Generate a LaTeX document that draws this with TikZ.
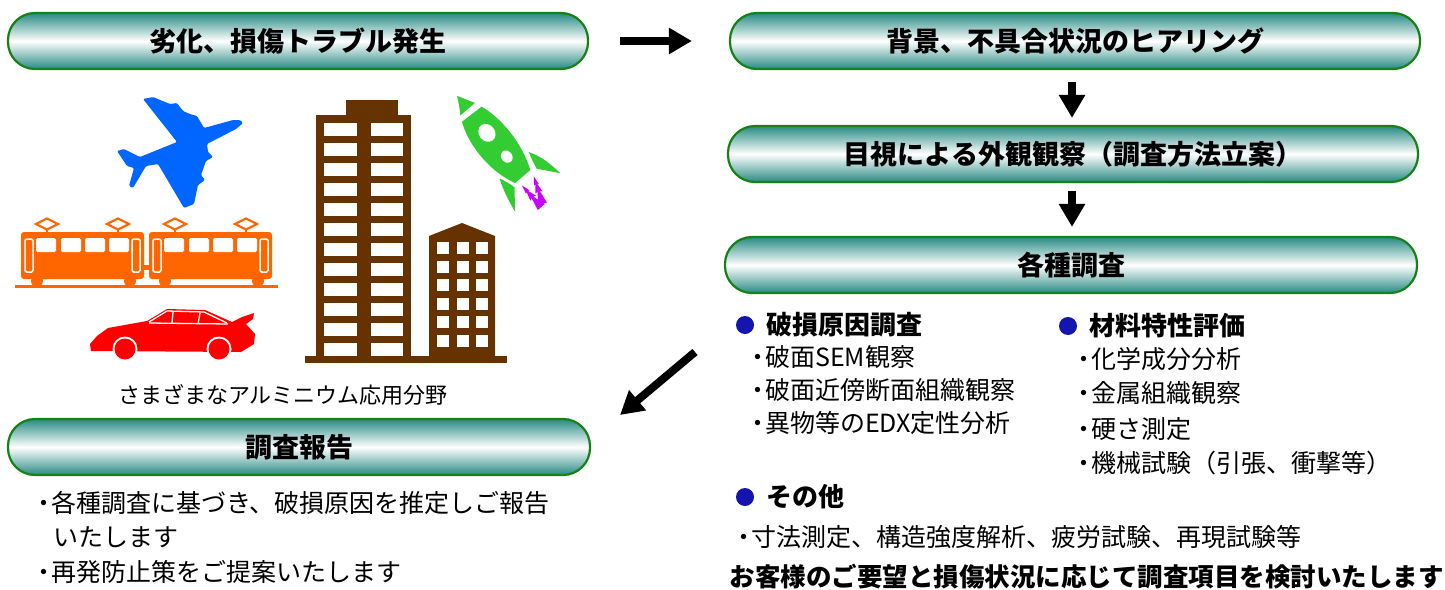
\documentclass[tikz,border=0pt]{standalone}
\usepackage{fontspec}
\setmainfont{Noto Sans CJK JP}
\usetikzlibrary{arrows.meta}

\definecolor{pillteal}{RGB}{40,138,132}
\definecolor{pillgreen}{RGB}{20,130,20}
\definecolor{dotblue}{RGB}{20,20,175}
\definecolor{planeblue}{RGB}{0,102,255}
\definecolor{trainorange}{RGB}{255,102,0}
\definecolor{carred}{RGB}{255,0,0}
\definecolor{bldbrown}{RGB}{102,51,0}
\definecolor{rocketgreen}{RGB}{51,204,51}
\definecolor{flamemagenta}{RGB}{204,0,255}

\newcommand{\setfs}[1]{\fontsize{#1}{#1}\selectfont}
\newcommand{\nakaten}{\hbox to 0.6em{\hss ・\hss}}

\tikzset{
  pill/.style={draw=pillgreen, line width=2.2pt, rounded corners=27pt,
    top color=pillteal, bottom color=pillteal, middle color=white,
    minimum height=56pt, inner sep=0pt, font=\bfseries\setfs{27}},
  bigarrow/.style={line width=8pt, -{Triangle[length=23pt,width=25pt]}},
  bluedot/.style={circle, fill=dotblue, minimum size=18pt, inner sep=0pt},
  heading/.style={anchor=west, inner sep=0pt, font=\bfseries\setfs{26}},
  item/.style={anchor=west, inner sep=0pt, font=\setfs{25}},
  window/.style={fill=white, rounded corners=1.5pt},
}

\begin{document}
\begin{tikzpicture}[x=1pt, y=-1pt]
\useasboundingbox (0,0) rectangle (1445,589);

% ---- flow boxes ----
\node[pill, minimum width=580pt] (trouble) at (298,41) {劣化、損傷トラブル発生};
\node[pill, minimum width=690pt] (hearing) at (1075,41) {背景、不具合状況のヒアリング};
\node[pill, minimum width=690pt] (visual)  at (1073,154) {目視による外観観察（調査方法立案）};
\node[pill, minimum width=692pt] (survey)  at (1071,265) {各種調査};
\node[pill, minimum width=582pt] (report)  at (299,447) {調査報告};

% ---- arrows ----
\coordinate (axis) at (1072,0);
\draw[bigarrow, shorten <=31pt, shorten >=37pt] (trouble) -- (hearing);
\draw[bigarrow, shorten <=12pt, shorten >=7pt] (hearing.south -| axis) -- (visual.north -| axis);
\draw[bigarrow, shorten <=8pt, shorten >=9pt] (visual.south -| axis) -- (survey.north -| axis);
\coordinate (diagS) at (695,352);
\coordinate (diagE) at (620,415);
\draw[bigarrow] (diagS) -- (diagE);

% ---- survey items ----
\node[bluedot] (dotA) at (745,325) {};
\node[heading] (cause) at (766,325) {破損原因調査};
\node[item] (ca1) at (750,357) {\nakaten 破面SEM観察};
\node[item] (ca2) at (750,390) {\nakaten 破面近傍断面組織観察};
\node[item] (ca3) at (750,423) {\nakaten 異物等のEDX定性分析};

\node[bluedot] (dotB) at (1068,326) {};
\node[heading] (matl) at (1089,326) {材料特性評価};
\node[item] (ma1) at (1076,359) {\nakaten 化学成分分析};
\node[item] (ma2) at (1076,393) {\nakaten 金属組織観察};
\node[item] (ma3) at (1076,429) {\nakaten 硬さ測定};
\node[item] (ma4) at (1076,463) {\nakaten 機械試験（引張、衝撃等）};

\node[bluedot] (dotC) at (745,497) {};
\node[heading] (other) at (766,497) {その他};
\node[item] (ot1) at (736,537) {\nakaten 寸法測定、構造強度解析、疲労試験、再現試験等};
\node[anchor=east, inner sep=0pt, font=\bfseries\setfs{25.5}] (note) at (1444,577)
  {お客様のご要望と損傷状況に応じて調査項目を検討いたします};

% ---- report text ----
\node[item] (re1) at (36,503) {\nakaten 各種調査に基づき、破損原因を推定しご報告};
\node[item] (re2) at (53,537) {いたします};
\node[item] (re3) at (36,572) {\nakaten 再発防止策をご提案いたします};

% ---- caption ----
\node[inner sep=0pt, font=\setfs{22}] (caption) at (283,395) {さまざまなアルミニウム応用分野};

% ---- aeroplane ----
\fill[planeblue, rounded corners=1.2pt]
  (243,123) -- (236,129) -- (207,144) -- (208,152) -- (213,157) -- (206,161)
  -- (201,175) -- (205,180) -- (198,185) -- (194,204) -- (184,208)
  -- (158,164) -- (146,166) -- (133,188) -- (129,186) -- (134,168)
  -- (127,166) -- (117,151) -- (124,149) -- (140,157) -- (177,142)
  -- (143,99) -- (153,97) -- (170,104) -- (177,103) -- (183,111)
  -- (190,114) -- (197,116) -- (204,128) -- (215,125) -- (233,120) -- (240,120) -- cycle;

% ---- trams ----
\fill[trainorange] (15,284.5) rectangle (278,287.5);
\fill[trainorange] (143,265) rectangle (150,270);
\foreach \cx in {21,149} {
  \begin{scope}[shift={(\cx,0)}]
    \fill[trainorange, rounded corners=3pt] (0,232) rectangle (123,279);
    \foreach \wx in {15,40,64,88}
      \fill[window] (\wx,238) rectangle (\wx+20,252);
    \draw[white, line width=1.5pt, rounded corners=1.5pt] (4,239) rectangle (12,272);
    \draw[white, line width=1.5pt, rounded corners=1.5pt] (111,239) rectangle (119,272);
    \foreach \px in {16,109}
      \fill[trainorange] (\px,281) circle (6);
    \foreach \px in {26,97} {
      \draw[trainorange, line width=2.2pt] (\px-11,224) -- (\px,218.5) -- (\px+11,224) -- (\px,229.5) -- cycle;
      \draw[trainorange, line width=2pt] (\px,229.5) -- (\px,232.5);
    }
  \end{scope}
}

% ---- car ----
\fill[carred]
  (91,351) -- (90,344) -- (97,336) -- (108,328) -- (147,321) -- (167,309)
  -- (205,310) -- (232,322) -- (242,317) -- (254,313) -- (253,319)
  -- (246,324) -- (255,334) -- (254,344) -- (241,352) -- cycle;
\draw[white, line width=1.3pt] (149,322) -- (167,311) -- (204,312) -- (227,323);
\draw[white, line width=1.3pt] (149,323) -- (228,324);
\draw[white, line width=1.3pt] (173,312) -- (172,323);
\draw[white, line width=1.3pt] (200,313) -- (198,324);
\foreach \wx in {125,219} {
  \fill[white] (\wx,349) circle (12.5);
  \fill[carred] (\wx,349) circle (10.5);
}

% ---- buildings ----
\fill[bldbrown] (316,115) rectangle (411,357);
\fill[bldbrown] (346,100) rectangle (398,116);
\foreach \r in {0,...,11} {
  \fill[white] (324,123+20*\r) rectangle (357,136+20*\r);
  \fill[white] (371,123+20*\r) rectangle (403,136+20*\r);
}
\fill[bldbrown] (429,236) -- (462,223) -- (495,236) -- (495,357) -- (429,357) -- cycle;
\foreach \r in {0,...,5} {
  \foreach \c in {437,457,476}
    \fill[white] (\c,242+18.5*\r) rectangle (\c+11.5,254+18.5*\r);
}
\fill[bldbrown] (305,356) rectangle (507,363);

% ---- rocket ----
\begin{scope}[shift={(522,179)}, rotate=127.7]
  \fill[rocketgreen] (1,-8) .. controls (30,-23) and (64,-20) .. (82,-12.5)
    -- (82,12.3) .. controls (64,20) and (30,23) .. (2,12) -- cycle;
  \fill[rocketgreen] (88,-10) .. controls (94,-6) and (100,-3) .. (105.5,-0.6)
    .. controls (100,3) and (94,6) .. (89,9.3) -- cycle;
  \fill[rocketgreen] (17,22) .. controls (5,30) and (-8,32) .. (-19,34)
    -- (-1,18) .. controls (6,19) and (12,20) .. (17,22) -- cycle;
  \fill[rocketgreen] (14,-17.5) .. controls (2,-22) and (-10,-24) .. (-21.6,-25.5)
    -- (-2,-11) .. controls (5,-13) and (10,-15) .. (14,-17.5) -- cycle;
  \fill[white] (58,0.5) ellipse (9.5 and 8);
  \fill[white] (27,1.6) ellipse (6.5 and 5.5);
  % two serrated exhaust flames
  \foreach \fv/\fa in {-4/4, 11/-20} {
    \begin{scope}[shift={(-5,\fv)}, rotate=\fa]
      \fill[flamemagenta] (0,0) -- (-9,-2.5) -- (-8,-0.8) -- (-17,-3.8) -- (-16,-1.2)
        -- (-29,-4.5) -- (-29,4.5) -- (-16,1.2) -- (-17,3.8) -- (-8,0.8) -- (-9,2.5) -- cycle;
    \end{scope}
  }
\end{scope}

\end{tikzpicture}
\end{document}
